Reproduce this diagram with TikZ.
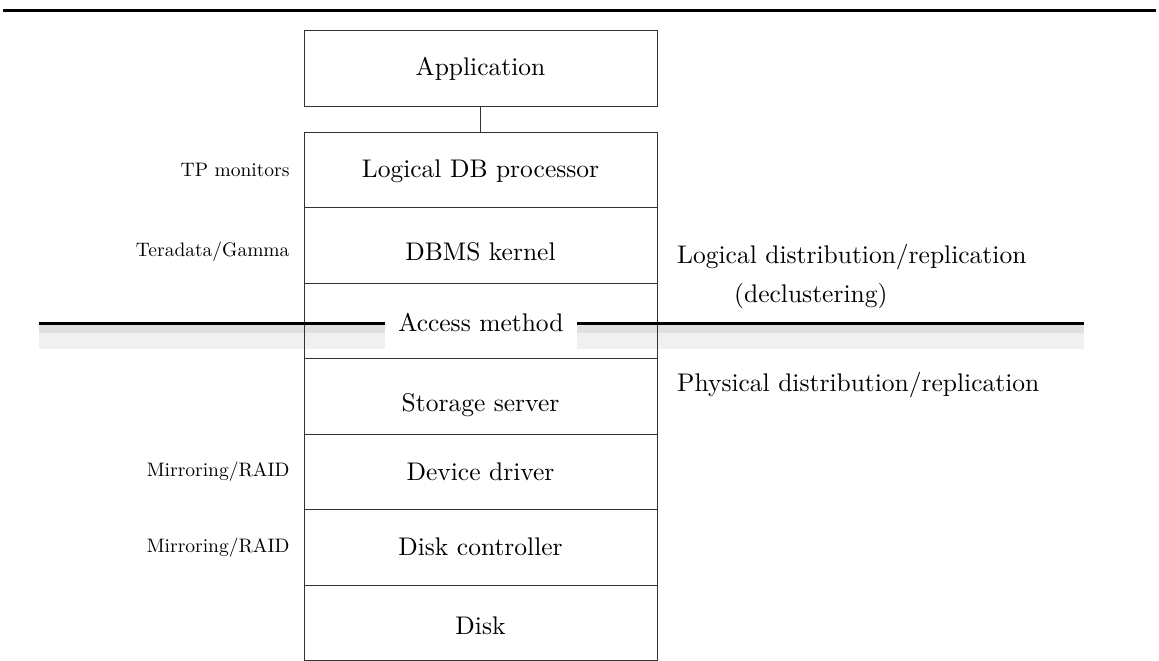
\documentclass[tikz,border=0pt]{standalone}
\usepackage{fontspec}
\setmainfont{lmroman10-regular.otf}
\usepackage{tikz}
\usetikzlibrary{positioning}
\definecolor{bandDark}{gray}{0.88}
\definecolor{bandLight}{gray}{0.94}

\begin{document}
\begin{tikzpicture}[
		x=1pt, y=-1pt,
		layer/.style={rectangle, draw=black!80, line width=1pt, minimum width=353pt, minimum height=75.5pt, inner sep=0pt, outer sep=0pt, font=\fontsize{25.5}{30}\selectfont},
		side/.style={font=\fontsize{19.5}{23}\selectfont},
		note/.style={anchor=west, inner sep=0pt, font=\fontsize{25.5}{30}\selectfont},
		cut/.style={line width=3pt, draw=black}
		]
	\useasboundingbox (0,0) rectangle (1159,661);

	% --- filet du haut ---
	\coordinate (ruleL) at (3,10.5);
	\coordinate (ruleR) at (1156,10.5);
	\draw[line width=3pt] (ruleL) -- (ruleR);

	% --- bande grise sous la coupure ---
	\coordinate (cutL) at (39,323);
	\coordinate (cutR) at (1084,323);
	\fill[bandDark] (39,324.5) rectangle (1084,333);
	\fill[bandLight] (39,333) rectangle (1084,349);

	% --- pile des couches ---
	\node[layer, minimum height=75pt] (app) at (480.5,68.5) {Application};
	\node[layer, text height=21pt] (proc) at (480.5,169.75) {Logical DB processor};
	\node[layer, below=0pt of proc, text height=32pt] (kernel) {DBMS kernel};
	\node[layer, below=0pt of kernel] (access) {};
	\node[layer, below=0pt of access, text height=36pt] (storage) {Storage server};
	\node[layer, below=0pt of storage] (driver) {Device driver};
	\node[layer, below=0pt of driver] (ctrl) {Disk controller};
	\node[layer, below=0pt of ctrl, text height=23pt] (disk) {Disk};

	\draw[draw=black!80, line width=1pt] (app) -- (proc);

	% --- coupure logique / physique ---
	\node[fill=white, inner sep=0pt, minimum width=192pt, minimum height=52pt, font=\fontsize{25.5}{30}\selectfont] (accessLbl) at (481,323) {Access method};
	\draw[cut] (cutL) -- (accessLbl.west);
	\draw[cut] (accessLbl.east) -- (cutR);

	% --- etiquettes a gauche ---
	\node[side, left=11pt of proc] (tp) {TP monitors};
	\node[side, left=11pt of kernel, yshift=-6pt] (tera) {Teradata/Gamma};
	\node[side, left=11pt of driver] (mirrA) {Mirroring/RAID};
	\node[side, left=11pt of ctrl] (mirrB) {Mirroring/RAID};

	% --- etiquettes a droite ---
	\node[note] (logDist) at (677,257) {Logical distribution/replication};
	\node[note] (declust) at (734,296) {(declustering)};
	\node[note] (physDist) at (677,385) {Physical distribution/replication};

\end{tikzpicture}
\end{document}
